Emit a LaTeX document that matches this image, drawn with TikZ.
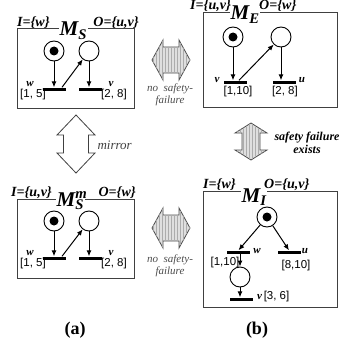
\documentclass[tikz,border=0pt]{standalone}
\usepackage{fontspec}
\setmainfont{Liberation Serif}
\setsansfont{Liberation Sans}
\usetikzlibrary{arrows.meta,calc,patterns}

\begin{document}
\begin{tikzpicture}[
  x=1pt, y=-1pt,
  box/.style={draw=black!75, line width=1pt},
  place/.style={circle, draw, line width=0.9pt, minimum size=20pt, inner sep=0pt},
  token/.style={place, path picture={\fill (path picture bounding box.center) circle (4.5pt);}},
  trans/.style={fill, inner sep=0pt, minimum width=23pt, minimum height=3pt},
  arc/.style={-{Latex[length=6pt,width=5pt]}, line width=1pt},
  title/.style={font=\fontsize{14}{14}\selectfont\bfseries\itshape, inner sep=0pt},
  mname/.style={font=\fontsize{21}{21}\selectfont\bfseries\itshape, fill=white, inner sep=0.5pt},
  num/.style={font=\sffamily\fontsize{11.5}{11.5}\selectfont, inner sep=0pt},
  tlab/.style={font=\fontsize{11}{11}\selectfont\bfseries\itshape, inner sep=0pt},
  note/.style={font=\fontsize{11}{12}\selectfont\itshape, text=black!70, align=center, inner sep=0pt},
  hatch/.style={draw=black!70, line width=0.8pt, fill=gray!25,
                postaction={pattern=vertical lines, pattern color=gray!65}},
  hollow/.style={draw=black!75, line width=0.8pt, fill=white},
  caption/.style={font=\fontsize{18}{18}\selectfont\bfseries}
]
\useasboundingbox (0,0) rectangle (341,345);

% M_S
\draw[box] (17,29) rectangle (134,108);
\node[title, anchor=base west] (msI) at (17,27) {I=\{w\}};
\node[title, anchor=base east] (msO) at (139,27) {O=\{u,v\}};
\node[mname, anchor=base west] (msM) at (59,36) {M\textsubscript{S}};
\node[token] (ms1) at (54,51) {};
\node[place] (ms2) at (89,51) {};
\node[trans] (mst1) at (54.5,89) {};
\node[trans] (mst2) at (90,89) {};
\draw[arc] (ms1) -- (ms1 |- mst1.north);
\draw[arc] (ms2) -- (ms2 |- mst2.north);
\draw[arc] ([xshift=7.5pt]mst1.north) -- (ms2);
\node[tlab] at (30,84) {w};
\node[num] at (33,95) {[1, 5]};
\node[tlab] at (111,84) {v};
\node[num] at (114,95) {[2, 8]};

% M_E
\draw[box] (203,13) rectangle (337,107);
\node[title, anchor=base west] (meI) at (190,10) {I=\{u,v\}};
\node[title, anchor=base west] (meO) at (259,10) {O=\{w\}};
\node[mname, anchor=base west] (meM) at (230,20) {M\textsubscript{E}};
\node[token] (me1) at (233,37) {};
\node[place] (me2) at (281,37) {};
\node[trans] (met1) at (235.5,82) {};
\node[trans] (met2) at (284.5,82) {};
\draw[arc] (me1) -- (me1 |- met1.north);
\draw[arc] (me2) -- (me2 |- met2.north);
\draw[arc] ([xshift=3.5pt]met1.north) -- (me2);
\node[tlab] at (217,80) {v};
\node[num] at (238,92) {[1,10]};
\node[num] at (285,92) {[2, 8]};
\node[tlab] at (302,80) {u};

% M_S^m
\draw[box] (17,199) rectangle (134,278);
\node[title, anchor=base west] (msmI) at (11,196) {I=\{u,v\}};
\node[title, anchor=base east] (msmO) at (136,196) {O=\{w\}};
\node[mname, anchor=base west] (msmM) at (56,206) {M\rlap{\textsuperscript{m}}\textsubscript{S}};
\node[token] (msm1) at (54,221) {};
\node[place] (msm2) at (89,221) {};
\node[trans] (msmt1) at (54.5,258) {};
\node[trans] (msmt2) at (90,258) {};
\draw[arc] (msm1) -- (msm1 |- msmt1.north);
\draw[arc] (msm2) -- (msm2 |- msmt2.north);
\draw[arc] ([xshift=7.5pt]msmt1.north) -- (msm2);
\node[tlab] at (30,253) {w};
\node[num] at (33,264) {[1, 5]};
\node[tlab] at (111,253) {v};
\node[num] at (114,264) {[2, 8]};

% M_I
\draw[box] (203,191) rectangle (337,307);
\node[title, anchor=base west] (miI) at (203,188) {I=\{w\}};
\node[title, anchor=base west] (miO) at (264,188) {O=\{u,v\}};
\node[mname, anchor=base west] (miM) at (241,202) {M\textsubscript{I}};
\node[token] (mi1) at (267,217) {};
\node[trans] (mit1) at (238.5,252) {};
\node[trans] (mit2) at (289,252) {};
\node[place] (mi2) at (240,277) {};
\node[trans] (mit3) at (241.5,299) {};
\draw[arc] (mi1) -- (mit1.north);
\draw[arc] (mi1) -- (mit2.north);
\draw[arc] (mi2 |- mit1.south) -- (mi2);
\draw[arc] (mi2) -- (mi2 |- mit3.north);
\node[tlab] at (257,251) {w};
\node[tlab] at (305,251) {u};
\node[num] at (225,263) {[1,10]};
\node[num] at (296,266) {[8,10]};
\node[anchor=west, inner sep=0pt] at (257,297)
  {{\fontsize{11}{11}\selectfont\bfseries\itshape v}\,{\sffamily\fontsize{11.5}{11.5}\selectfont [3, 6]}};

% big arrows
\draw[hatch, shift={(171,60)}] (-19,0) -- (-8,-20) -- (-8,-13) -- (8,-13) -- (8,-20)
  -- (19,0) -- (8,20) -- (8,13) -- (-8,13) -- (-8,20) -- cycle;
\node[note] at (170,95) {no\ \ safety-\\failure};
\draw[hatch, shift={(171,228)}] (-19,0) -- (-8,-20) -- (-8,-13) -- (8,-13) -- (8,-20)
  -- (19,0) -- (8,20) -- (8,13) -- (-8,13) -- (-8,20) -- cycle;
\node[note] at (170,266) {no\ \ safety-\\failure};
\draw[hollow, shift={(76,144)}] (0,-29) -- (19,-9) -- (12.5,-9) -- (12.5,9) -- (19,9)
  -- (0,29) -- (-19,9) -- (-12.5,9) -- (-12.5,-9) -- (-19,-9) -- cycle;
\node[font=\fontsize{13}{13}\selectfont\itshape, text=black!75, anchor=west] at (94,145) {mirror};
\draw[hatch, shift={(251,141.5)}] (0,-18.5) -- (16,-8.5) -- (9,-8.5) -- (9,8.5) -- (16,8.5)
  -- (0,18.5) -- (-16,8.5) -- (-9,8.5) -- (-9,-8.5) -- (-16,-8.5) -- cycle;
\node[font=\fontsize{12}{13}\selectfont\bfseries\itshape, align=center] at (307,143) {safety failure\\exists};

\node[caption] at (75,330) {(a)};
\node[caption] at (257,330) {(b)};
\end{tikzpicture}
\end{document}
